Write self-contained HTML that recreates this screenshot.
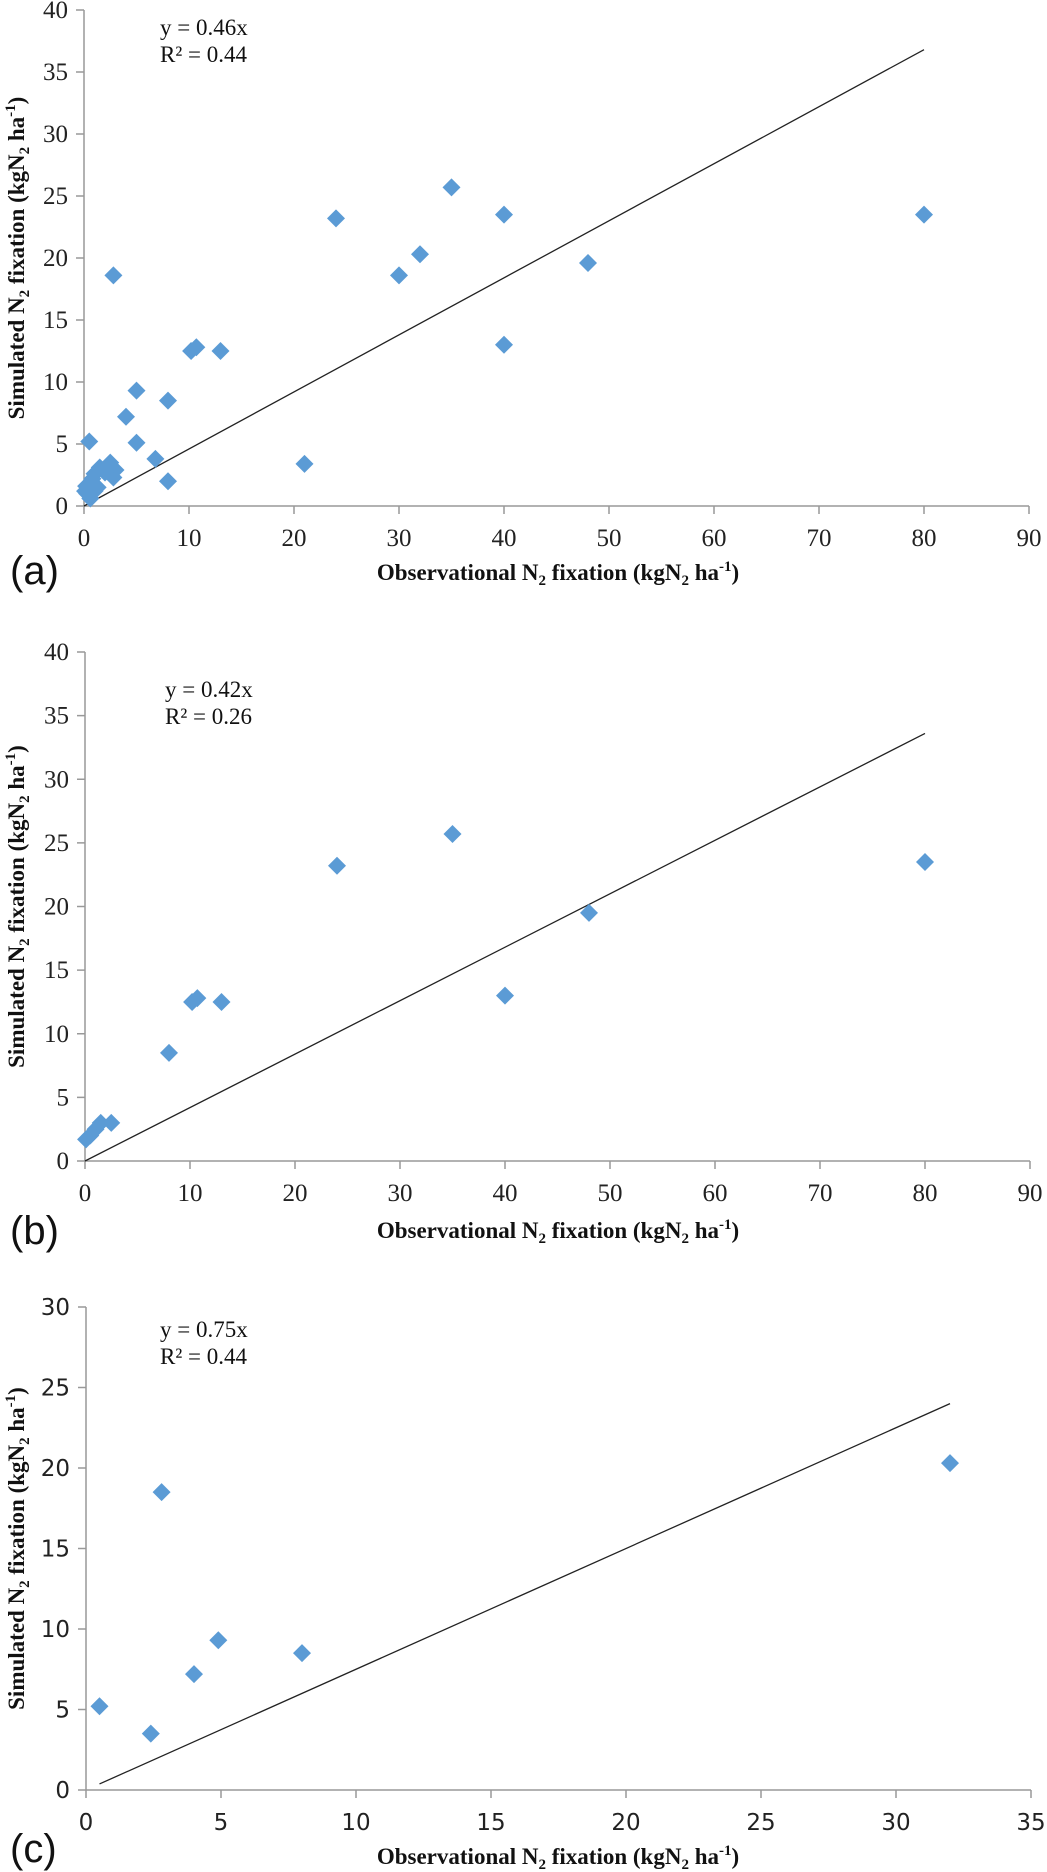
<!DOCTYPE html>
<html><head><meta charset="utf-8">
<style>
body{margin:0;background:#fff;}
svg{display:block;}
.tk{font-family:"Liberation Serif",serif;font-size:25px;fill:#222;}
.tks{font-family:"DejaVu Sans","Liberation Sans",sans-serif;font-size:23px;fill:#222;}
.ttl{font-family:"Liberation Serif",serif;font-size:23px;font-weight:bold;fill:#111;}
.eq{font-family:"Liberation Serif",serif;font-size:23px;fill:#111;}
.lab{font-family:"Liberation Sans",sans-serif;font-size:40px;fill:#111;}
</style></head><body>
<svg id="svg" width="1047" height="1872"></svg>
<script>
const aObs=[80,48,40,40,35,32,30,24,21,13,10.7,10.2,8,8,6.8,5,5,4,2.8,0.5,2.5,3,2.8,2,1.5,1,0.8,0.5,0.2,0.3,1,0.6,1.3,0.1];
const aSim=[23.5,19.6,23.5,13,25.7,20.3,18.6,23.2,3.4,12.5,12.8,12.5,8.5,2,3.8,9.3,5.1,7.2,18.6,5.2,3.5,2.9,2.3,2.7,3.1,2.6,2.2,1.8,1.6,1.0,1.2,0.6,1.5,1.2];
const bObs=[80,48,40,35,24,13,10.7,10.2,8,2.5,1.5,1,0.5,0.1];
const bSim=[23.5,19.5,13,25.7,23.2,12.5,12.8,12.5,8.5,3,3,2.5,2,1.7];
const cObs=[32,8,4.9,4,2.8,2.4,0.5];
const cSim=[20.3,8.5,9.3,7.2,18.5,3.5,5.2];
const aXTicks=[0,10,20,30,40,50,60,70,80,90], aYTicks=[0,5,10,15,20,25,30,35,40];
const bXTicks=[0,10,20,30,40,50,60,70,80,90], bYTicks=[0,5,10,15,20,25,30,35,40];
const cXTicks=[0,5,10,15,20,25,30,35], cYTicks=[0,5,10,15,20,25,30];
const slopes=[0.46,0.42,0.75];
const ns="http://www.w3.org/2000/svg", svg=document.getElementById('svg');
function mk(t,a,p){const e=document.createElementNS(ns,t);for(const k in a)e.setAttribute(k,a[k]);(p||svg).appendChild(e);return e;}
function panel(cfg){
  const g=mk('g',{});
  
  
  const X=v=>cfg.x0+(v-0)/cfg.xmax*(cfg.x1-cfg.x0);
  const Y=v=>cfg.y0-(v)/cfg.ymax*(cfg.y0-cfg.y1);
  const ax=mk('path',{d:`M${X(0)},${cfg.y1} V${cfg.y0} H${cfg.x1}`,stroke:'#999',fill:'none','stroke-width':1.5},g);
  
  cfg.yt.forEach(v=>{mk('line',{x1:X(0)-8,x2:X(0),y1:Y(v),y2:Y(v),stroke:'#999','stroke-width':1.5},g);
    const t=mk('text',{x:X(0)-16,y:Y(v)+8,'text-anchor':'end',class:cfg.tc},g);t.textContent=v;
    });
  cfg.xt.forEach(v=>{mk('line',{x1:X(v),x2:X(v),y1:cfg.y0,y2:cfg.y0+8,stroke:'#999','stroke-width':1.5},g);
    const t=mk('text',{x:X(v),y:cfg.y0+40,'text-anchor':'middle',class:cfg.tc},g);t.textContent=v;
    });
  const ln=mk('line',{x1:X(cfg.lx0),y1:Y(cfg.lx0*cfg.k),x2:X(cfg.lx1),y2:Y(cfg.lx1*cfg.k),stroke:'#222','stroke-width':1.3},g);
  
  cfg.xs.forEach((v,i)=>{const cx=X(v),cy=Y(cfg.ys[i]),r=9;
    const p=mk('path',{d:`M${cx},${cy-r}L${cx+r},${cy}L${cx},${cy+r}L${cx-r},${cy}Z`,fill:'#5B9BD5'},g);
    });
  const e1=mk('text',{x:cfg.ex,y:cfg.ey,class:'eq'},g);e1.textContent='y = '+cfg.k.toFixed(2)+'x';
  
  const e2=mk('text',{x:cfg.ex,y:cfg.ey+27,class:'eq'},g);e2.textContent='R² = '+cfg.r2;
  
  const yc=(cfg.y0+cfg.y1)/2;
  const yt=mk('text',{x:0,y:0,class:'ttl','text-anchor':'middle',transform:`translate(${cfg.ytx},${yc}) rotate(-90)`},g);
  yt.innerHTML='Simulated N<tspan font-size="15" dy="5">2</tspan><tspan dy="-5"> fixation (kgN</tspan><tspan font-size="15" dy="5">2</tspan><tspan dy="-5"> ha</tspan><tspan font-size="15" dy="-9">-1</tspan><tspan dy="9">)</tspan>';
  
  const xt=mk('text',{x:558,y:cfg.xty,class:'ttl','text-anchor':'middle'},g);
  xt.innerHTML='Observational N<tspan font-size="15" dy="5">2</tspan><tspan dy="-5"> fixation (kgN</tspan><tspan font-size="15" dy="5">2</tspan><tspan dy="-5"> ha</tspan><tspan font-size="15" dy="-9">-1</tspan><tspan dy="9">)</tspan>';
  
  const lb=mk('text',{x:10,y:cfg.lby,class:'lab'},g);lb.textContent='('+cfg.id+')';
  
}
panel({id:'a',x0:84,x1:1029,xmax:90,y0:506,y1:10,ymax:40,xt:aXTicks,yt:aYTicks,xs:aObs,ys:aSim,k:slopes[0],r2:'0.44',lx0:0,lx1:80,ex:160,ey:35,tc:'tk',ytx:24,xty:580,lby:584});
panel({id:'b',x0:85,x1:1030,xmax:90,y0:1161,y1:652,ymax:40,xt:bXTicks,yt:bYTicks,xs:bObs,ys:bSim,k:slopes[1],r2:'0.26',lx0:0,lx1:80,ex:165,ey:697,tc:'tk',ytx:24,xty:1238,lby:1244});
panel({id:'c',x0:86,x1:1031,xmax:35,y0:1790,y1:1307,ymax:30,xt:cXTicks,yt:cYTicks,xs:cObs,ys:cSim,k:slopes[2],r2:'0.44',lx0:0.5,lx1:32,ex:160,ey:1337,tc:'tks',ytx:24,xty:1864,lby:1862});
</script>
</body></html>
